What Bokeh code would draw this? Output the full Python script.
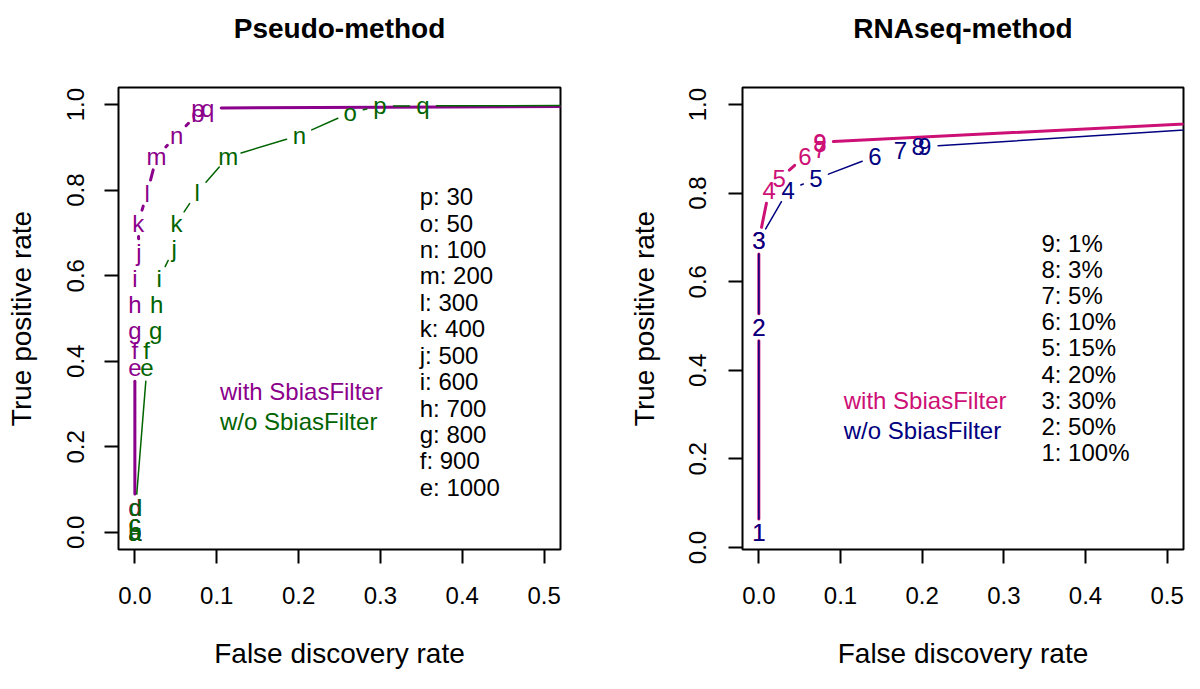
import math
from bokeh.plotting import figure
from bokeh.layouts import row
from bokeh.models import FixedTicker, Range1d, Title
from bokeh.core.properties import value
from bokeh.embed import file_html
from bokeh.resources import INLINE

FONT = "Liberation Sans"

# ---------------- data: Pseudo-method ----------------
pseudo_labels = ["a", "b", "c", "d", "e", "f", "g", "h", "i", "j", "k", "l", "m", "n", "o", "p", "q", ""]
pseudo_with_fdr = [0.0, 0.0, 0.0, 0.0, 0.0, 0.0, 0.0, 0.0, 0.0, 0.005, 0.004, 0.015, 0.0265, 0.051, 0.077, 0.077, 0.089, 1.0]
pseudo_with_tpr = [0.0, 0.003, 0.021, 0.058, 0.385, 0.425, 0.472, 0.533, 0.593, 0.655, 0.723, 0.793, 0.878, 0.928, 0.979, 0.99, 0.992, 1.0]
pseudo_wo_fdr = [0.0, 0.0, 0.0, 0.001, 0.0147, 0.0143, 0.0253, 0.0265, 0.0297, 0.048, 0.051, 0.076, 0.114, 0.201, 0.263, 0.2995, 0.352, 1.0]
pseudo_wo_tpr = [0.0, 0.003, 0.021, 0.058, 0.385, 0.425, 0.472, 0.533, 0.593, 0.664, 0.723, 0.795, 0.878, 0.928, 0.981, 0.997, 0.997, 1.0]
pseudo_key = ["p: 30", "o: 50", "n: 100", "m: 200", "l: 300", "k: 400",
              "j: 500", "i: 600", "h: 700", "g: 800", "f: 900", "e: 1000"]

# ---------------- data: RNAseq-method ----------------
rnaseq_labels = ["1", "2", "3", "4", "5", "6", "7", "8", "9", ""]
rnaseq_with_fdr = [0.0, 0.0, 0.0, 0.0126, 0.0249, 0.0563, 0.0747, 0.0747, 0.0747, 1.0]
rnaseq_with_tpr = [0.034, 0.497, 0.693, 0.807, 0.832, 0.883, 0.898, 0.913, 0.915, 1.0]
rnaseq_wo_fdr = [0.0, 0.0, 0.0, 0.036, 0.0698, 0.142, 0.1734, 0.195, 0.203, 1.0]
rnaseq_wo_tpr = [0.034, 0.497, 0.693, 0.807, 0.832, 0.883, 0.896, 0.905, 0.905, 1.0]
rnaseq_key = ["9: 1%", "8: 3%", "7: 5%", "6: 10%", "5: 15%", "4: 20%", "3: 30%", "2: 50%", "1: 100%"]

legend_texts = ["with SbiasFilter", "w/o SbiasFilter"]

x_ticks = [0.0, 0.1, 0.2, 0.3, 0.4, 0.5]
x_tick_labels = ["0.0", "0.1", "0.2", "0.3", "0.4", "0.5"]
y_ticks = [0.0, 0.2, 0.4, 0.6, 0.8, 1.0]
y_tick_labels = ["0.0", "0.2", "0.4", "0.6", "0.8", "1.0"]

# ---------------- layout constants ----------------
H = 680
TOP = 87
FRAME_H = 462
BOTTOM = H - TOP - FRAME_H
GAP = 13.5  # px gap around each label (R type="b")


def broken_segments(xs, ys, xr, yr, fw, fh):
    kx = fw / (xr[1] - xr[0])
    ky = fh / (yr[1] - yr[0])
    x0, y0, x1, y1 = [], [], [], []
    for i in range(1, len(xs)):
        dx = xs[i] - xs[i - 1]
        dy = ys[i] - ys[i - 1]
        d = math.hypot(dx * kx, dy * ky)
        if d > 2 * GAP:
            f = GAP / d
            x0.append(xs[i - 1] + f * dx)
            y0.append(ys[i - 1] + f * dy)
            x1.append(xs[i] - f * dx)
            y1.append(ys[i] - f * dy)
    return x0, y0, x1, y1


def panel(title, W, yr, left_b, right_b, series, labels, key, key_x, key_y0, key_step,
          leg_x, leg_y, ylab_standoff, ylab_label_standoff):
    xr = (-0.02, 0.52)
    fw = W - left_b - right_b
    fh = FRAME_H
    p = figure(width=W, height=H, x_range=Range1d(*xr), y_range=Range1d(*yr),
               output_backend="svg", toolbar_location=None,
               min_border_left=left_b, min_border_right=right_b,
               min_border_top=TOP, min_border_bottom=BOTTOM)

    xa = p.below[0]
    ya = p.left[0]

    # blank spacer panel between the frame and the title
    p.add_layout(Title(text=" ", text_font_size="2px", standoff=40), "above")
    p.add_layout(Title(text=title, align="center", text_font=FONT, text_font_size="28px",
                       text_font_style="bold", text_color="black", standoff=0,
                       vertical_align="bottom"), "above")

    p.xgrid.visible = False
    p.ygrid.visible = False
    p.outline_line_color = "black"
    p.outline_line_width = 2
    p.background_fill_color = "white"
    p.border_fill_color = "white"

    for ax, ticks, labs in ((xa, x_ticks, x_tick_labels), (ya, y_ticks, y_tick_labels)):
        ax.ticker = FixedTicker(ticks=ticks)
        ax.major_label_overrides = dict(zip(ticks, labs))
        ax.axis_line_color = None
        ax.major_tick_out = 14
        ax.major_tick_in = 0
        ax.major_tick_line_width = 2
        ax.minor_tick_line_color = None
        ax.major_label_text_font = FONT
        ax.major_label_text_font_size = "24px"
        ax.major_label_text_color = "black"
        ax.axis_label_text_font = FONT
        ax.axis_label_text_font_size = "28px"
        ax.axis_label_text_font_style = "normal"
        ax.axis_label_text_color = "black"
    xa.axis_label = "False discovery rate"
    xa.major_label_standoff = 23
    xa.axis_label_standoff = 31
    ya.axis_label = "True positive rate"
    ya.major_label_orientation = "vertical"
    ya.major_label_standoff = ylab_standoff
    ya.axis_label_standoff = ylab_label_standoff

    for (xs, ys, color, lw) in series:
        x0, y0, x1, y1 = broken_segments(xs, ys, xr, yr, fw, fh)
        p.segment(x0=x0, y0=y0, x1=x1, y1=y1, line_color=color, line_width=lw, line_cap="round")
        p.text(x=xs, y=ys, text=labels, text_color=color, text_font=value(FONT),
               text_font_size="24px", text_align="center", text_baseline="middle")

    ky = [key_y0 - i * key_step for i in range(len(key))]
    p.text(x=[key_x] * len(key), y=ky, text=key, text_color="black", text_font=value(FONT),
           text_font_size="24px", text_align="left", text_baseline="middle")

    p.text(x=[leg_x, leg_x], y=leg_y, text=legend_texts, text_color=[series[0][2], series[1][2]],
           text_font=value(FONT), text_font_size="24px", text_align="left", text_baseline="middle")
    return p


PURPLE = "#8B008B"
GREEN = "#006400"
PINK = "#CD1076"
NAVY = "#000080"

p1 = panel("Pseudo-method", 600, (-0.04, 1.04), 118, 40,
           [(pseudo_with_fdr, pseudo_with_tpr, PURPLE, 3),
            (pseudo_wo_fdr, pseudo_wo_tpr, GREEN, 1.5)],
           pseudo_labels, pseudo_key, 0.348, 0.785, 0.0618,
           0.104, [0.33, 0.26], 20, 28)

p2 = panel("RNAseq-method", 592, (-0.0046, 1.0386), 142, 9,
           [(rnaseq_with_fdr, rnaseq_with_tpr, PINK, 3),
            (rnaseq_wo_fdr, rnaseq_wo_tpr, NAVY, 1.5)],
           rnaseq_labels, rnaseq_key, 0.346, 0.686, 0.0589,
           0.104, [0.332, 0.264], 22, 27)

layout = row(p1, p2)
open("out.html", "w").write(file_html(layout, INLINE))
